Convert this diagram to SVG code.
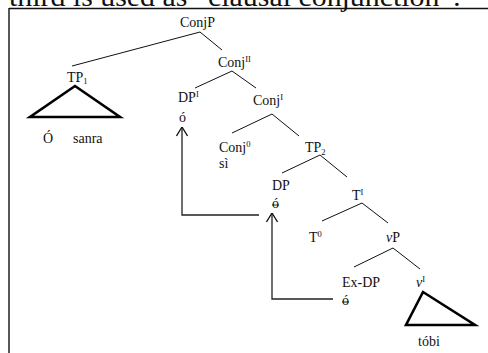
<svg xmlns="http://www.w3.org/2000/svg" width="488" height="353" viewBox="0 0 488 353">
  <style>
    .edge { stroke: #111; stroke-width: 1; fill: none; }
    .tri { stroke: #000; stroke-width: 2.6; fill: none; stroke-linejoin: miter; }
    .move { stroke: #222; stroke-width: 1.3; fill: none; }
    .strike { stroke: #111; stroke-width: 0.9; }
  </style>
  <defs>
    <marker id="arrowOpen" viewBox="0 0 10 12" refX="10" refY="6" markerWidth="10" markerHeight="12" markerUnits="userSpaceOnUse" orient="auto">
      <path d="M1,0.5 L10,6 L1,11.5" fill="none" stroke="#111" stroke-width="1.3"/>
    </marker>
  </defs>

  <rect width="488" height="353" fill="#fff"/>

  <!-- running text above the frame -->
  <text x="9" y="6" font-family="'Liberation Serif', 'Times New Roman', serif" font-size="27" fill="#111" textLength="452" lengthAdjust="spacingAndGlyphs">third is used as “clausal conjunction”:</text>

  <!-- frame -->
  <g id="frame">
    <line x1="9" y1="8.5" x2="488" y2="8.5" stroke="#111" stroke-width="1.4"/>
    <line x1="9" y1="8" x2="9" y2="353" stroke="#111" stroke-width="1.4"/>
  </g>

  <!-- tree branches and movement arrows -->
  <g id="connectors">
    <line class="edge" x1="200" y1="32" x2="72" y2="66"/>
    <line class="edge" x1="200" y1="32" x2="222" y2="50"/>
    <line class="edge" x1="232" y1="71" x2="195" y2="88"/>
    <line class="edge" x1="232" y1="71" x2="256" y2="88"/>
    <line class="edge" x1="272" y1="114" x2="232" y2="133"/>
    <line class="edge" x1="272" y1="114" x2="299" y2="136"/>
    <line class="edge" x1="320" y1="155" x2="282" y2="173"/>
    <line class="edge" x1="320" y1="155" x2="347" y2="177"/>
    <line class="edge" x1="362" y1="203" x2="322" y2="221"/>
    <line class="edge" x1="362" y1="203" x2="388" y2="223"/>
    <line class="edge" x1="393" y1="248" x2="354" y2="267"/>
    <line class="edge" x1="393" y1="248" x2="420" y2="269"/>
    <polyline class="move" stroke="#444" points="259,215 182,215 182,127" marker-end="url(#arrowOpen)"/>
    <polyline class="move" points="333,299 272,299 272,213" marker-end="url(#arrowOpen)"/>
  </g>

  <g font-family="'Liberation Serif', 'Times New Roman', serif" font-size="14" fill="#111">
    <g id="ConjP"><text x="180" y="27">ConjP</text></g>

    <g id="TP1">
      <text x="67" y="82">TP<tspan font-size="8.5" dy="2">1</tspan></text>
      <polygon class="tri" points="75,86 30,117 120,117"/>
      <text x="43" y="143">Ó</text>
      <text x="73" y="143">sanra</text>
    </g>

    <g id="ConjII"><text x="218" y="67">Conj<tspan font-size="8.5" dy="-5">II</tspan></text></g>

    <g id="DPI">
      <text x="178" y="102">DP<tspan font-size="8.5" dy="-5">I</tspan></text>
      <text x="179" y="122">ó</text>
    </g>

    <g id="ConjI"><text x="253" y="105">Conj<tspan font-size="8.5" dy="-5">I</tspan></text></g>

    <g id="Conj0">
      <text x="219" y="152">Conj<tspan font-size="8.5" dy="-5">0</tspan></text>
      <text x="219" y="168">sì</text>
    </g>

    <g id="TP2"><text x="305" y="152">TP<tspan font-size="8.5" dy="3">2</tspan></text></g>

    <g id="DP">
      <text x="272" y="190">DP</text>
      <text x="272" y="208">ó</text>
      <line class="strike" x1="272" y1="205" x2="279" y2="205"/>
    </g>

    <g id="TI"><text x="352" y="200">T<tspan font-size="8.5" dy="-5">I</tspan></text></g>

    <g id="T0"><text x="309" y="242">T<tspan font-size="8.5" dy="-5">0</tspan></text></g>

    <g id="vP"><text x="386" y="242"><tspan font-style="italic">v</tspan>P</text></g>

    <g id="ExDP">
      <text x="342" y="287">Ex-DP</text>
      <text x="342" y="305">ó</text>
      <line class="strike" x1="342" y1="302" x2="349" y2="302"/>
    </g>

    <g id="vI">
      <text x="416" y="287"><tspan font-style="italic">v</tspan><tspan font-size="8.5" dy="-5">I</tspan></text>
      <polygon class="tri" points="423,292 406,325 475,325"/>
      <text x="418" y="346">tóbi</text>
    </g>
  </g>
</svg>
